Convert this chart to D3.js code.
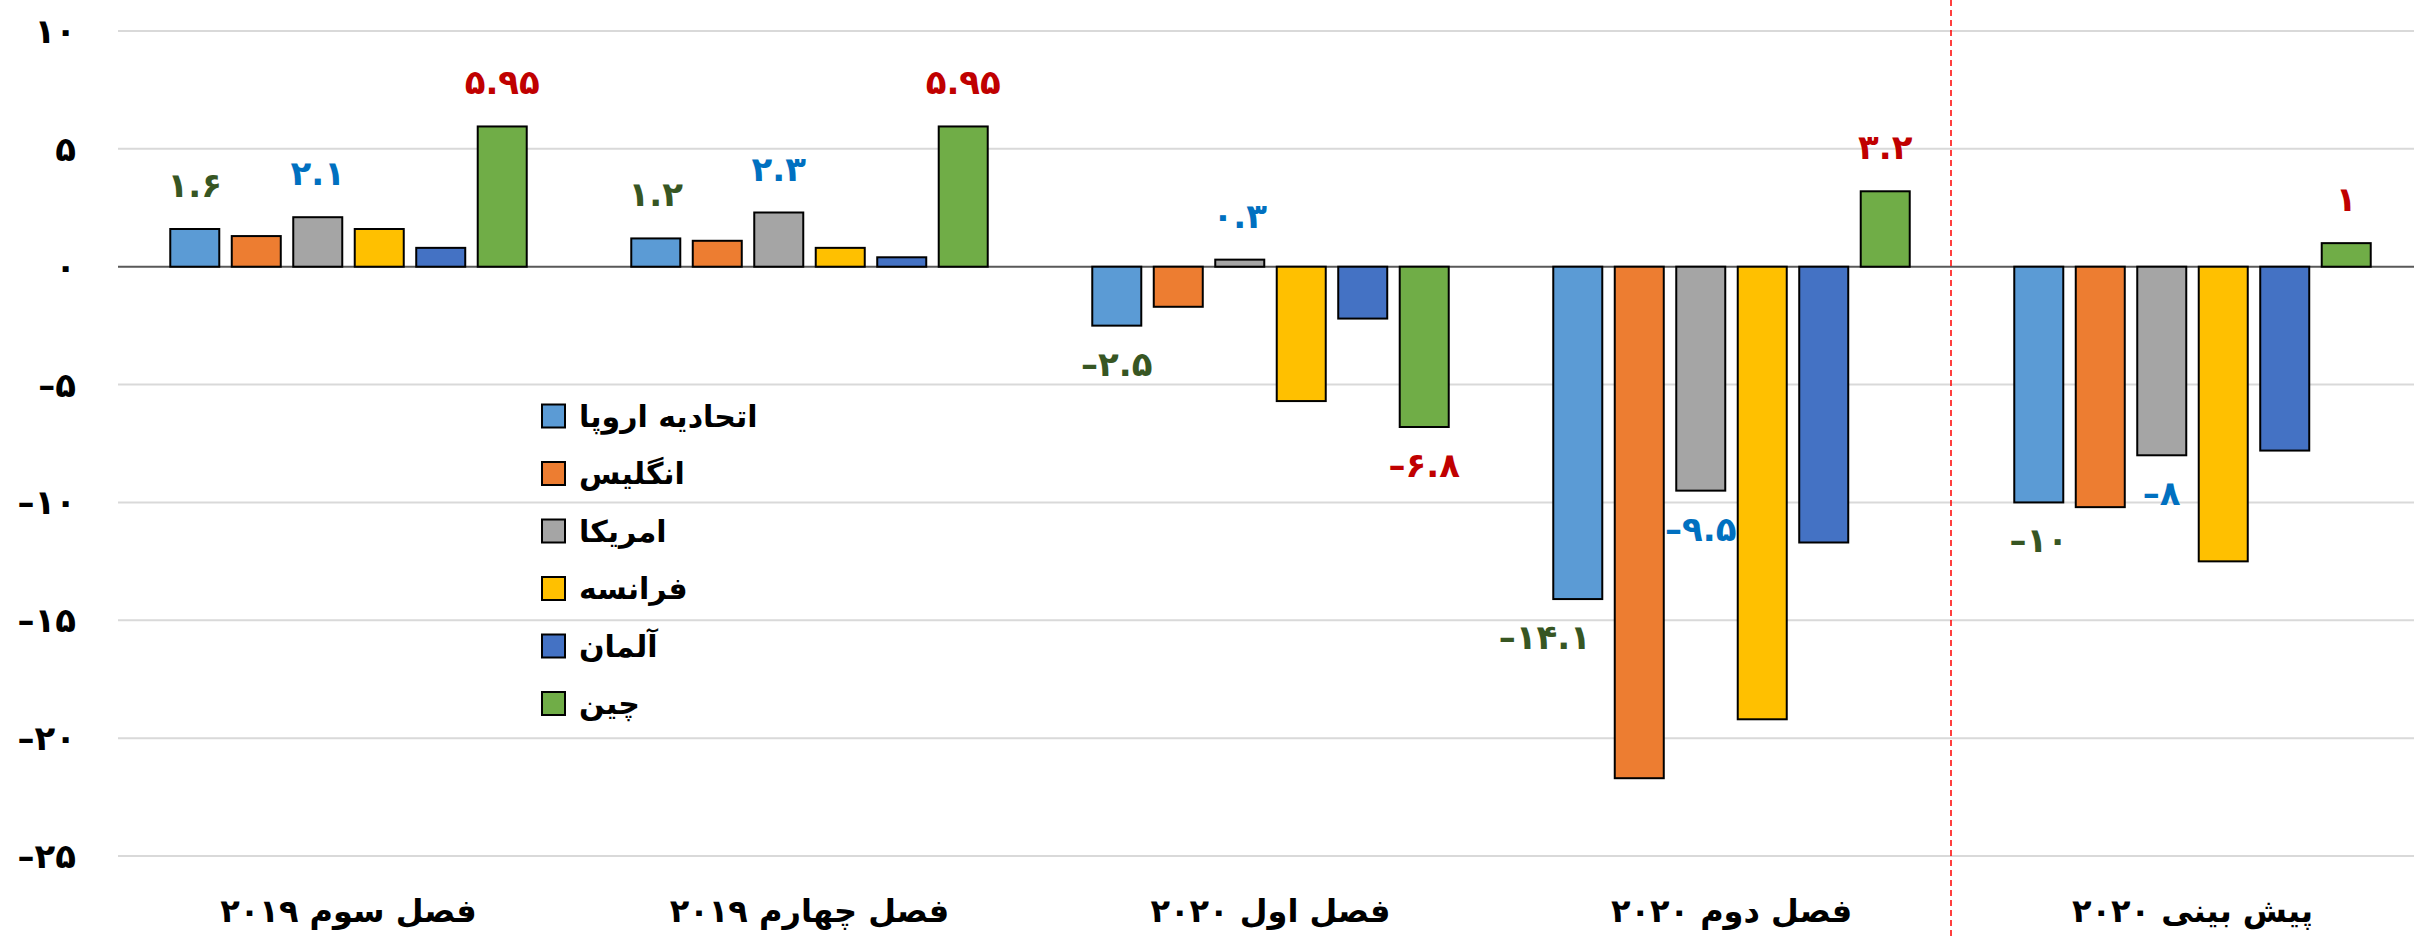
<!DOCTYPE html>
<html>
<head>
<meta charset="utf-8">
<script src="https://cdn.jsdelivr.net/npm/d3@7/dist/d3.min.js"></script>
<style>
  html, body { margin: 0; padding: 0; background: #ffffff; }
  svg { display: block; }
  text { font-family: "DejaVu Sans", sans-serif; font-weight: bold; }
  .num { direction: ltr; unicode-bidi: bidi-override; }
</style>
</head>
<body>
<svg id="chart" width="2414" height="940"></svg>
<script>
// ---------------- DATA ----------------
const categories = ["فصل سوم ۲۰۱۹", "فصل چهارم ۲۰۱۹", "فصل اول ۲۰۲۰", "فصل دوم ۲۰۲۰", "پیش بینی ۲۰۲۰"];
const seriesNames = ["اتحادیه اروپا", "انگلیس", "امریکا", "فرانسه", "آلمان", "چین"];
const euValues = [1.6, 1.2, -2.5, -14.1, -10];
const ukValues = [1.3, 1.1, -1.7, -21.7, -10.2];
const usValues = [2.1, 2.3, 0.3, -9.5, -8];
const frValues = [1.6, 0.8, -5.7, -19.2, -12.5];
const deValues = [0.8, 0.4, -2.2, -11.7, -7.8];
const cnValues = [5.95, 5.95, -6.8, 3.2, 1];
const yTicks = [10, 5, 0, -5, -10, -15, -20, -25];
const labeledSeries = ["اتحادیه اروپا", "امریکا", "چین"];

// ---------------- STYLE ----------------
const seriesValues = [euValues, ukValues, usValues, frValues, deValues, cnValues];
const colors = ["#5B9BD5", "#ED7D31", "#A5A5A5", "#FFC000", "#4472C4", "#70AD47"];
const labelColors = {"اتحادیه اروپا": "#375623", "امریکا": "#0070C0", "چین": "#C00000"};
const labelNudge = {"3-0": -33};

const faDigits = "۰۱۲۳۴۵۶۷۸۹";
function toFa(v) {
  const s = String(Math.abs(v)).replace(/[0-9]/g, d => faDigits[+d]);
  return (v < 0 ? "–" : "") + s;
}

const svg = d3.select("#chart");
const W = 2414, H = 940;

const x0 = d3.scaleBand().domain(categories).range([118, 2423]).padding(0);
const x1 = d3.scaleBand().domain(seriesNames).range([0, x0.bandwidth()])
  .paddingInner(0.203).paddingOuter(0.85);
const y = d3.scaleLinear().domain([-25, 10]).range([856, 31]);

// gridlines
svg.append("g").selectAll("line").data(yTicks.filter(t => t !== 0)).join("line")
  .attr("x1", 118).attr("x2", W)
  .attr("y1", d => y(d)).attr("y2", d => y(d))
  .attr("stroke", "#d9d9d9").attr("stroke-width", 2);

// y tick labels
svg.append("g").selectAll("text").data(yTicks).join("text")
  .attr("class", "num")
  .attr("x", 76).attr("y", d => y(d))
  .attr("text-anchor", "end").attr("dominant-baseline", "central")
  .attr("font-size", 34).attr("fill", "#000")
  .text(d => toFa(d));

// zero line
svg.append("line")
  .attr("x1", 118).attr("x2", W).attr("y1", y(0)).attr("y2", y(0))
  .attr("stroke", "#595959").attr("stroke-width", 2);

// bars
const flat = [];
categories.forEach((c, ci) => {
  seriesNames.forEach((s, si) => {
    flat.push({cat: c, ci, series: s, si, value: seriesValues[si][ci]});
  });
});

svg.append("g").selectAll("rect").data(flat).join("rect")
  .attr("x", d => x0(d.cat) + x1(d.series))
  .attr("width", x1.bandwidth())
  .attr("y", d => y(Math.max(0, d.value)))
  .attr("height", d => Math.abs(y(d.value) - y(0)))
  .attr("fill", d => colors[d.si])
  .attr("stroke", "#000").attr("stroke-width", 2);

// data labels
svg.append("g").selectAll("text")
  .data(flat.filter(d => labeledSeries.includes(d.series))).join("text")
  .attr("class", "num")
  .attr("x", d => x0(d.cat) + x1(d.series) + x1.bandwidth() / 2 + (labelNudge[d.ci + "-" + d.si] || 0))
  .attr("y", d => d.value >= 0 ? y(d.value) - 44 : y(d.value) + 38)
  .attr("text-anchor", "middle").attr("dominant-baseline", "central")
  .attr("font-size", 34).attr("fill", d => labelColors[d.series])
  .text(d => toFa(d.value));

// category labels
svg.append("g").selectAll("text").data(categories).join("text")
  .attr("x", d => x0(d) + x0.bandwidth() / 2)
  .attr("y", 922)
  .attr("text-anchor", "middle")
  .attr("font-size", 32).attr("fill", "#000")
  .text(d => d);

// dashed separator
svg.append("line")
  .attr("x1", x0(categories[4]) - 11).attr("x2", x0(categories[4]) - 11)
  .attr("y1", 0).attr("y2", H)
  .attr("stroke", "#FF0000").attr("stroke-width", 1.5)
  .attr("stroke-dasharray", "6,4");

// legend
const legend = svg.append("g");
const lg = legend.selectAll("g").data(seriesNames).join("g")
  .attr("transform", (d, i) => `translate(542, ${416 + i * 57.5})`);
lg.append("rect").attr("x", 0).attr("y", -11.5).attr("width", 23).attr("height", 23)
  .attr("fill", (d, i) => colors[i]).attr("stroke", "#000").attr("stroke-width", 2);
lg.append("text").attr("x", 37).attr("y", 0)
  .attr("dominant-baseline", "central").attr("text-anchor", "start")
  .attr("font-size", 30).attr("fill", "#000")
  .text(d => d);
</script>
</body>
</html>
